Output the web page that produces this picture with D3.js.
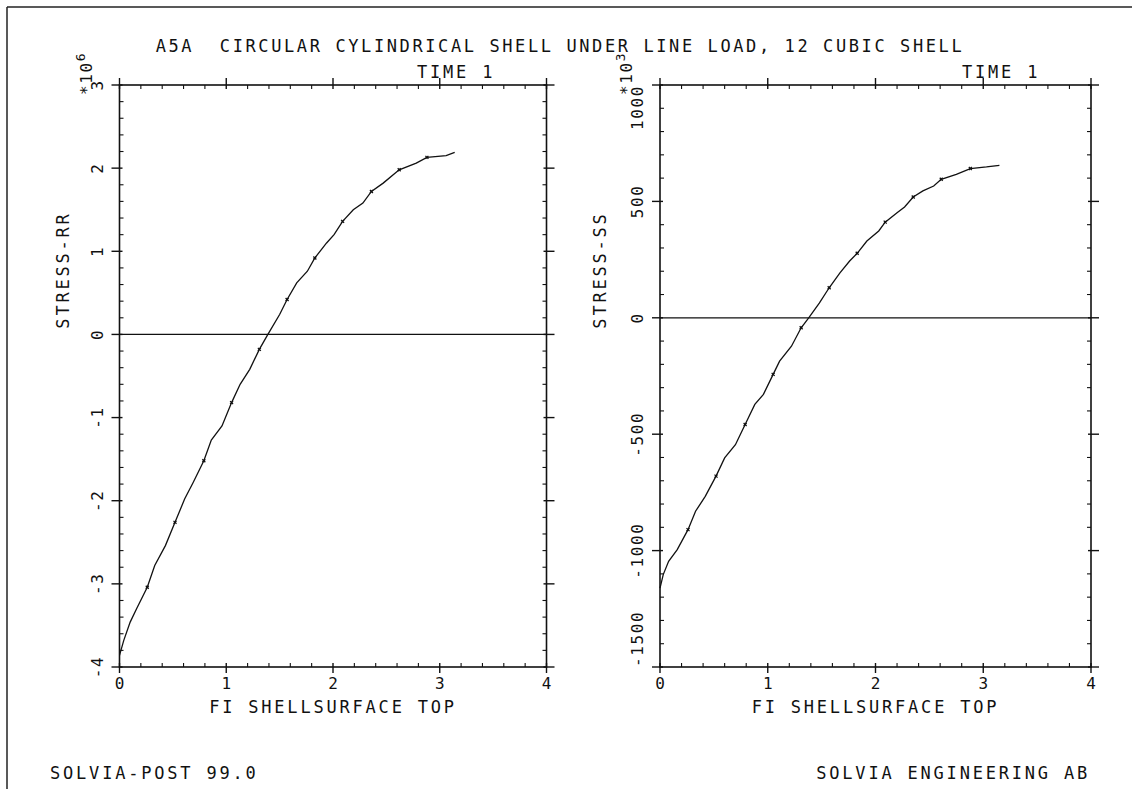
<!DOCTYPE html>
<html>
<head>
<meta charset="utf-8">
<script src="https://d3js.org/d3.v7.min.js"></script>
<style>
  body { margin: 0; background: #fff; }
  text { font-family: "DejaVu Sans Mono", "Liberation Mono", monospace; fill: #111; white-space: pre; }
</style>
</head>
<body>
<div id="myPlot"></div>
<script>
//----------------------------------------------------------------------------------------------------
// data (x = FI, y = stress)
var xTicks = [0, 1, 2, 3, 4];

var rrX = [0, 0.04, 0.10, 0.16, 0.26, 0.33, 0.43, 0.52, 0.61, 0.69, 0.79, 0.86, 0.96, 1.05, 1.13, 1.22, 1.31, 1.39,
  1.50, 1.57, 1.66, 1.76, 1.83, 1.94, 2.01, 2.09, 2.19, 2.28, 2.36, 2.47, 2.62, 2.78, 2.88, 3.06, 3.14];
var rrY = [-3.86, -3.68, -3.46, -3.30, -3.04, -2.78, -2.54, -2.26, -1.98, -1.78, -1.52, -1.27, -1.10, -0.82, -0.60, -0.42, -0.18, 0.00,
  0.24, 0.42, 0.62, 0.76, 0.92, 1.10, 1.20, 1.36, 1.50, 1.58, 1.72, 1.82, 1.98, 2.06, 2.13, 2.15, 2.19];
var rrTicks = [-4, -3, -2, -1, 0, 1, 2, 3];

var ssX = [0, 0.03, 0.08, 0.16, 0.26, 0.33, 0.42, 0.52, 0.60, 0.70, 0.79, 0.88, 0.96, 1.05, 1.11, 1.22, 1.31, 1.38,
  1.48, 1.57, 1.67, 1.76, 1.83, 1.92, 2.03, 2.09, 2.20, 2.27, 2.35, 2.44, 2.54, 2.61, 2.75, 2.88, 3.03, 3.15];
var ssY = [-1161, -1103, -1046, -996, -910, -831, -767, -680, -602, -545, -458, -372, -329, -243, -186, -122, -43, 0,
  64, 129, 193, 244, 277, 330, 373, 411, 451, 476, 519, 545, 566, 595, 616, 641, 648, 655];
var ssTicks = [-1500, -1000, -500, 0, 500, 1000];

// element boundaries marked along the curves
var markX = [0.26, 0.52, 0.79, 1.05, 1.31, 1.57, 1.83, 2.09, 2.36, 2.62, 2.88];

//----------------------------------------------------------------------------------------------------
var W = 1132, H = 789;
var svg = d3.select("#myPlot")
  .append("svg")
  .attr("width", W)
  .attr("height", H);

// frame lines
svg.append("line").attr("x1", 7).attr("y1", 7).attr("x2", W).attr("y2", 7)
  .attr("stroke", "#222").attr("stroke-width", 1.5);
svg.append("line").attr("x1", 7).attr("y1", 7).attr("x2", 7).attr("y2", H)
  .attr("stroke", "#222").attr("stroke-width", 1.5);

svg.append("text")
  .attr("x", 560).attr("y", 52)
  .attr("text-anchor", "middle")
  .style("font-size", "17px").style("letter-spacing", "2.6px")
  .text("A5A  CIRCULAR CYLINDRICAL SHELL UNDER LINE LOAD, 12 CUBIC SHELL");

svg.append("text").attr("x", 50).attr("y", 779)
  .style("font-size", "17px").style("letter-spacing", "2.8px")
  .text("SOLVIA-POST 99.0");
svg.append("text").attr("x", 1090).attr("y", 779)
  .attr("text-anchor", "end")
  .style("font-size", "17px").style("letter-spacing", "2.8px")
  .text("SOLVIA ENGINEERING AB");

//----------------------------------------------------------------------------------------------------
function rotText(g, x, y, str, anchor, size) {
  return g.append("text")
    .attr("transform", "translate(" + x + "," + y + ") rotate(-90)")
    .attr("text-anchor", anchor)
    .style("font-size", size + "px")
    .style("letter-spacing", "1.6px")
    .text(str);
}

function buildPlot(opt) {
  var g = svg.append("g");
  var x = d3.scaleLinear().domain([0, 4]).range([opt.left, opt.right]);
  var y = d3.scaleLinear().domain(opt.yDomain).range([667, 85]);
  var x0 = opt.left, x1 = opt.right, y0 = 667, y1 = 85;

  // frame
  g.append("rect")
    .attr("x", x0).attr("y", y1).attr("width", x1 - x0).attr("height", y0 - y1)
    .attr("fill", "none").attr("stroke", "#111").attr("stroke-width", 1.6);

  // minor + major ticks, x direction
  var xMinor = x.ticks(20);
  xMinor.forEach(function (v) {
    var major = xTicks.indexOf(v) >= 0;
    var px = x(v);
    if (major) {
      g.append("line").attr("x1", px).attr("x2", px).attr("y1", y0 - 4).attr("y2", y0 + 6)
        .attr("stroke", "#111").attr("stroke-width", 1.4);
      g.append("line").attr("x1", px).attr("x2", px).attr("y1", y1 + 4).attr("y2", y1 - 7)
        .attr("stroke", "#111").attr("stroke-width", 1.4);
    } else {
      g.append("line").attr("x1", px).attr("x2", px).attr("y1", y0).attr("y2", y0 - 4)
        .attr("stroke", "#111").attr("stroke-width", 1.1);
      g.append("line").attr("x1", px).attr("x2", px).attr("y1", y1).attr("y2", y1 + 4)
        .attr("stroke", "#111").attr("stroke-width", 1.1);
    }
  });

  // y direction
  var yMinor = d3.range(0, 36).map(function (i) { return opt.yDomain[0] + i * opt.yMinorStep; })
    .filter(function (v) { return v <= opt.yDomain[1] + 1e-9; });
  yMinor.forEach(function (v) {
    var major = opt.yTicks.some(function (t) { return Math.abs(t - v) < 1e-6; });
    var py = y(v);
    if (major) {
      g.append("line").attr("x1", x0 - 8).attr("x2", x0 + 3).attr("y1", py).attr("y2", py)
        .attr("stroke", "#111").attr("stroke-width", 1.4);
      g.append("line").attr("x1", x1 - 3).attr("x2", x1 + 8).attr("y1", py).attr("y2", py)
        .attr("stroke", "#111").attr("stroke-width", 1.4);
    } else {
      g.append("line").attr("x1", x0).attr("x2", x0 + 4).attr("y1", py).attr("y2", py)
        .attr("stroke", "#111").attr("stroke-width", 1.1);
      g.append("line").attr("x1", x1).attr("x2", x1 - 4).attr("y1", py).attr("y2", py)
        .attr("stroke", "#111").attr("stroke-width", 1.1);
    }
  });

  // zero line
  g.append("line").attr("x1", x0).attr("x2", x1).attr("y1", y(0)).attr("y2", y(0))
    .attr("stroke", "#111").attr("stroke-width", 1.2);

  // x tick labels
  g.selectAll(".xl").data(xTicks).enter().append("text")
    .attr("x", function (d) { return x(d); })
    .attr("y", 689)
    .attr("text-anchor", "middle")
    .style("font-size", "16px")
    .text(function (d) { return d; });

  // y tick labels (rotated)
  opt.yTicks.forEach(function (t, i) {
    var anchor = "middle";
    if (opt.clampEnds && i === 0) anchor = "start";
    if (opt.clampEnds && i === opt.yTicks.length - 1) anchor = "end";
    rotText(g, opt.labelX, y(t), String(t), anchor, 16);
  });

  // exponent label
  var ex = g.append("text")
    .attr("transform", "translate(" + opt.expX + ",95) rotate(-90)")
    .style("font-size", "16px")
    .style("letter-spacing", "1.6px");
  ex.append("tspan").text("*10");
  ex.append("tspan").attr("dy", -7).style("font-size", "13px").text(opt.expo);

  // axis titles
  rotText(g, opt.titleX, 270, opt.yTitle, "middle", 17).style("letter-spacing", "2.8px");
  g.append("text")
    .attr("x", (x0 + x1) / 2).attr("y", 713)
    .attr("text-anchor", "middle")
    .style("font-size", "17px").style("letter-spacing", "2.8px")
    .text("FI SHELLSURFACE TOP");
  g.append("text")
    .attr("x", opt.timeX).attr("y", 78)
    .style("font-size", "17px").style("letter-spacing", "2.8px")
    .text("TIME 1");

  // the curve
  var pts = opt.xs.map(function (v, i) { return [v, opt.ys[i]]; });
  g.append("path")
    .datum(pts)
    .attr("fill", "none")
    .attr("stroke", "#111")
    .attr("stroke-width", 1.3)
    .attr("d", d3.line()
      .x(function (d) { return x(d[0]); })
      .y(function (d) { return y(d[1]); })
    );

  // small marks at element boundaries
  var marks = pts.filter(function (p) {
    return markX.some(function (m) { return Math.abs(m - p[0]) < 0.015; });
  });
  g.selectAll(".mk").data(marks).enter().append("path")
    .attr("transform", function (d) { return "translate(" + x(d[0]) + "," + y(d[1]) + ")"; })
    .attr("d", d3.symbol().type(d3.symbolTimes).size(7))
    .attr("fill", "none")
    .attr("stroke", "#111")
    .attr("stroke-width", 1.3);
}

buildPlot({
  left: 119.5, right: 546.5,
  yDomain: [-4, 3], yMinorStep: 0.2, yTicks: rrTicks,
  xs: rrX, ys: rrY,
  labelX: 103, expX: 92, expo: "6", titleX: 69,
  yTitle: "STRESS-RR", timeX: 417, clampEnds: false
});

buildPlot({
  left: 660, right: 1091,
  yDomain: [-1500, 1000], yMinorStep: 100, yTicks: ssTicks,
  xs: ssX, ys: ssY,
  labelX: 643, expX: 632, expo: "3", titleX: 606,
  yTitle: "STRESS-SS", timeX: 962, clampEnds: true
});
</script>
</body>
</html>
